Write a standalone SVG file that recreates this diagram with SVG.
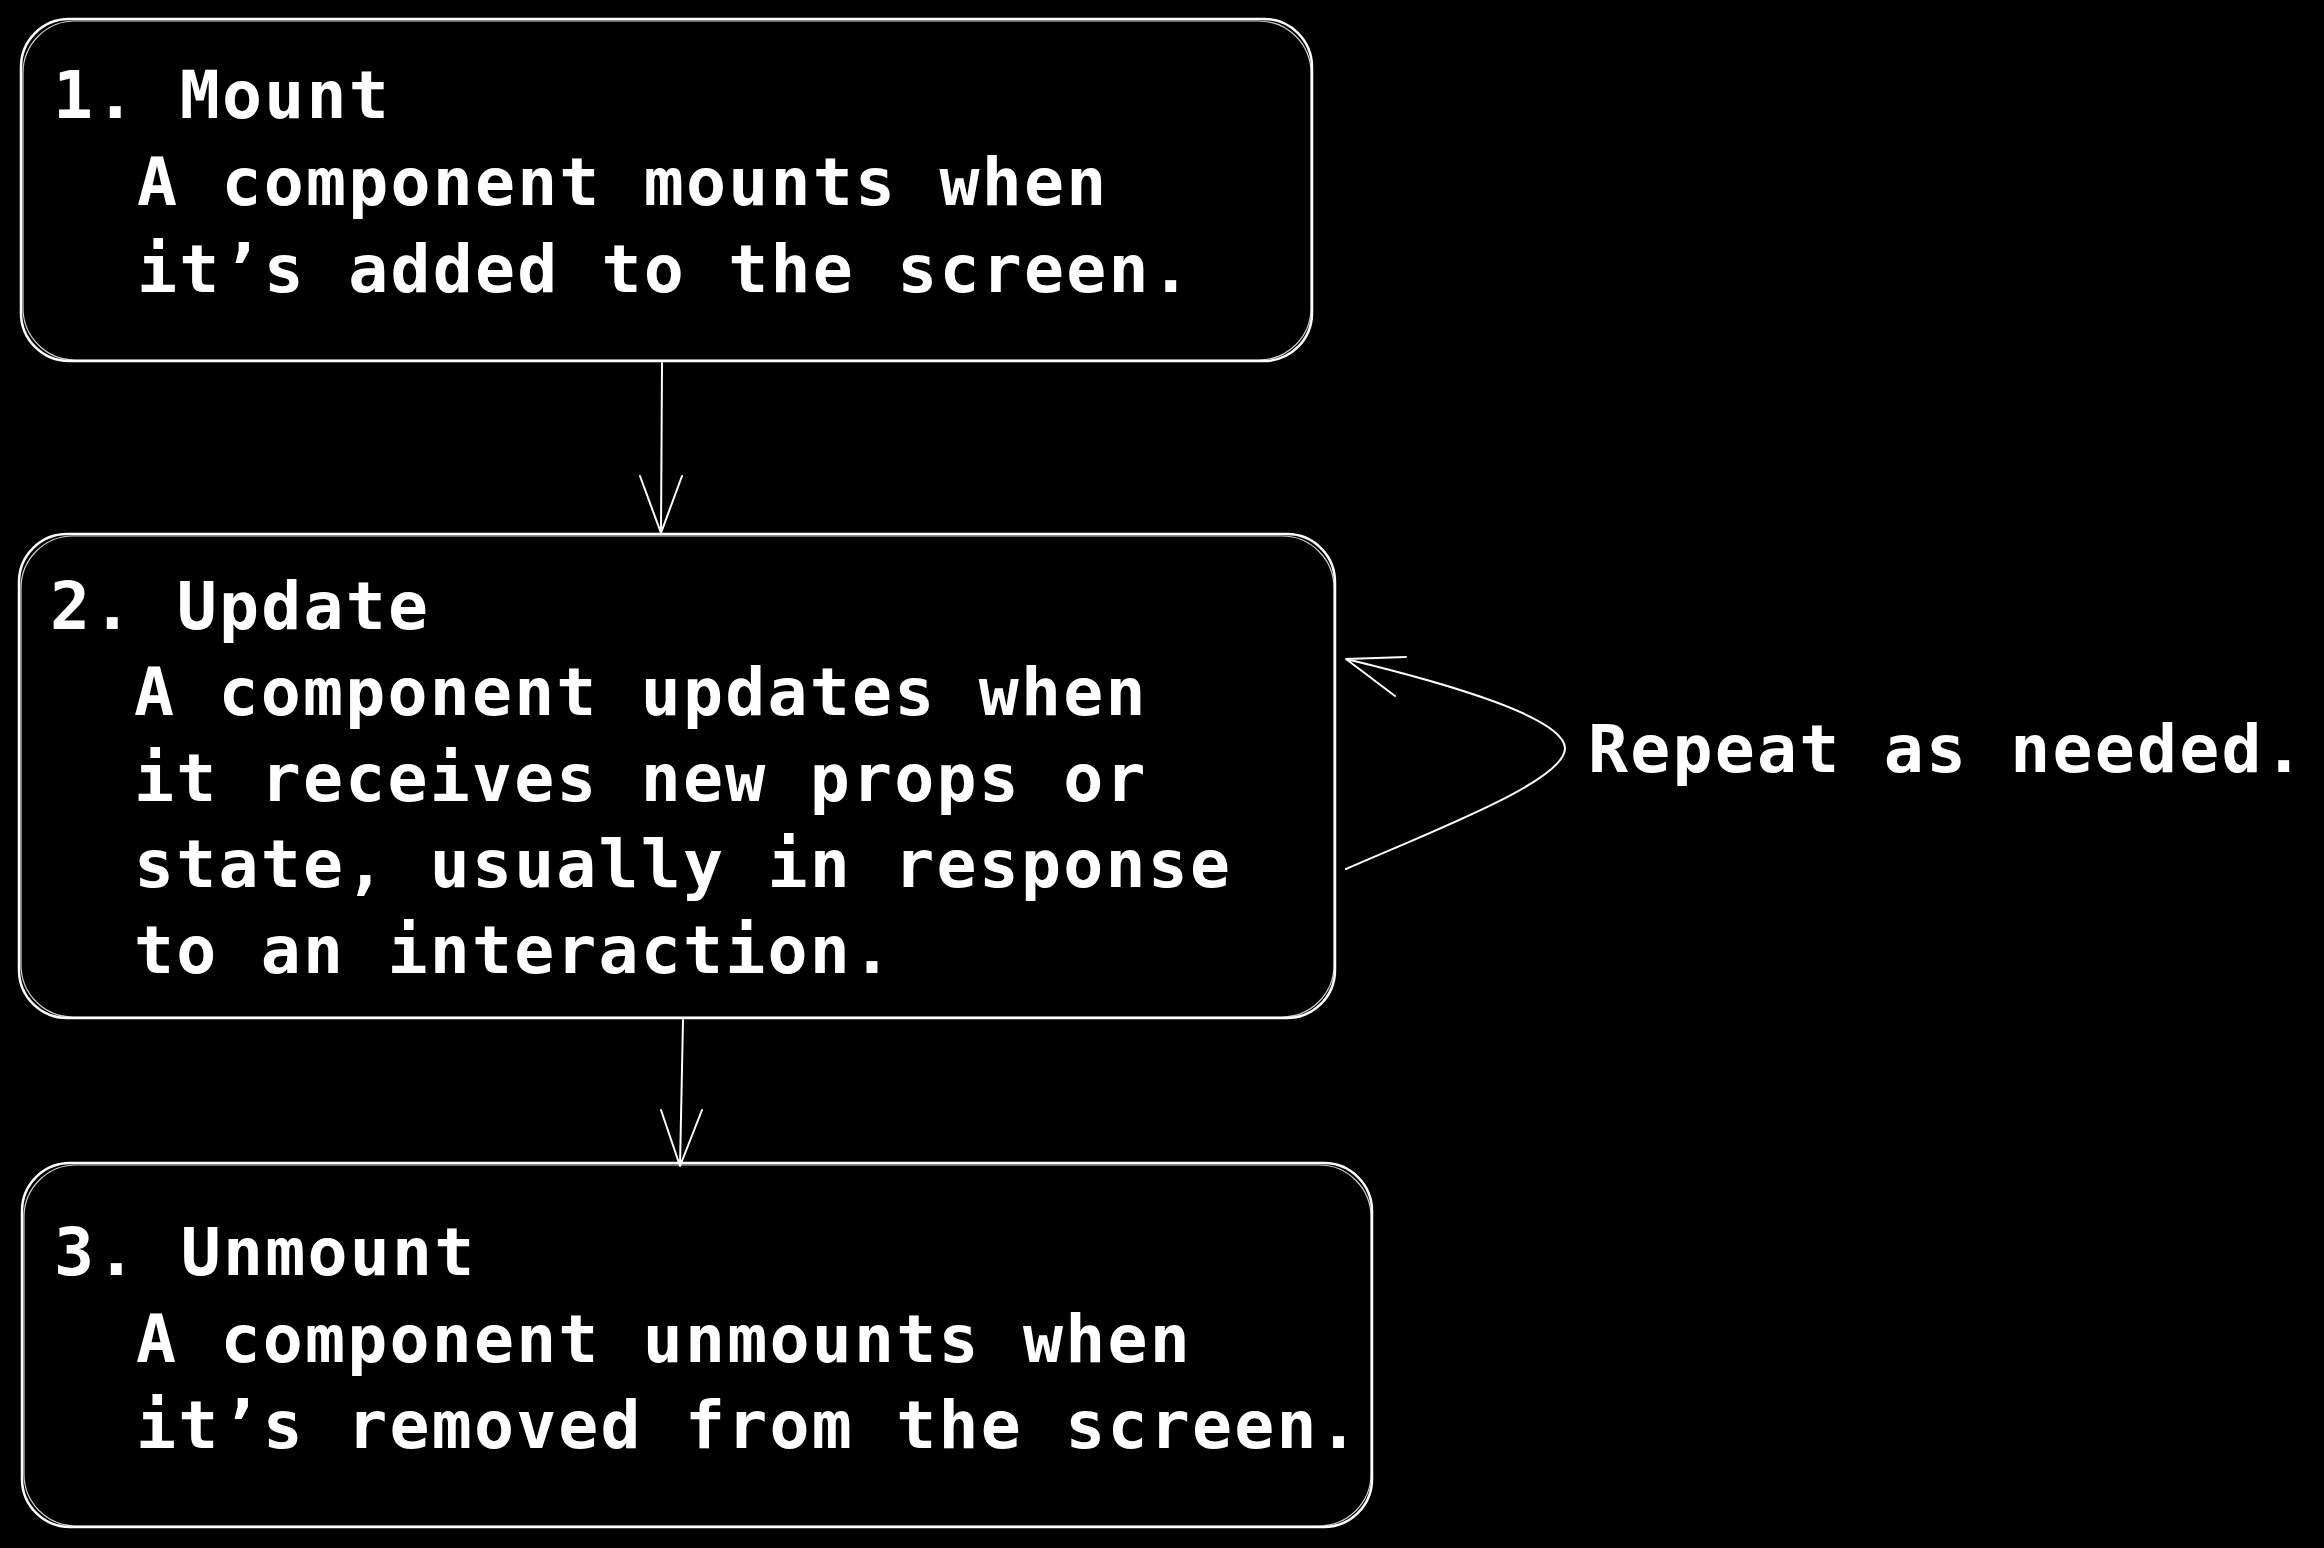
<svg xmlns="http://www.w3.org/2000/svg" width="2324" height="1548" viewBox="0 0 2324 1548">
<style>
.box{fill:#000;stroke:#fff;stroke-width:2.5}
.sk{fill:none;stroke:#fff;stroke-width:1.2;opacity:.8}
.t{font-family:"DejaVu Sans Mono","Liberation Mono",monospace;font-size:66.5px;font-weight:bold;letter-spacing:2.2px;fill:#fff}
.c{fill:none;stroke:#fff;stroke-width:2;stroke-linecap:round;stroke-linejoin:round}
</style>
<rect width="2324" height="1548" fill="#000"/>
<g id="mount">
<rect class="box" x="21" y="19" width="1291" height="342" rx="48"/>
<rect class="sk" x="23" y="21" width="1288" height="339" rx="52"/>
<text class="t" x="53" y="118">1. Mount</text>
<text class="t" x="137" y="205">A component mounts when</text>
<text class="t" x="137" y="292">it’s added to the screen.</text>
</g>
<g id="update">
<rect class="box" x="19" y="534" width="1316" height="484" rx="48"/>
<rect class="sk" x="21" y="536" width="1313" height="481" rx="52"/>
<text class="t" x="50" y="629">2. Update</text>
<text class="t" x="134" y="715">A component updates when</text>
<text class="t" x="134" y="801">it receives new props or</text>
<text class="t" x="134" y="887">state, usually in response</text>
<text class="t" x="134" y="973">to an interaction.</text>
</g>
<g id="unmount">
<rect class="box" x="22" y="1163" width="1350" height="364" rx="48"/>
<rect class="sk" x="24" y="1165" width="1347" height="361" rx="52"/>
<text class="t" x="54" y="1275">3. Unmount</text>
<text class="t" x="136" y="1362">A component unmounts when</text>
<text class="t" x="136" y="1448">it’s removed from the screen.</text>
</g>
<g id="repeat-label">
<text class="t" x="1588" y="772">Repeat as needed.</text>
</g>
<g id="connectors">
<path class="c" d="M662 363 L661 533 M640 476 L661 533 L682 476"/>
<path class="c" d="M683 1020 L680 1166 M661 1110 L680 1166 L702 1110"/>
<path class="c" d="M1346 869 C1440 828 1566 780 1565 748 C1564 718 1450 684 1346 659 M1406 657 L1346 659 L1395 696"/>
</g>
</svg>
